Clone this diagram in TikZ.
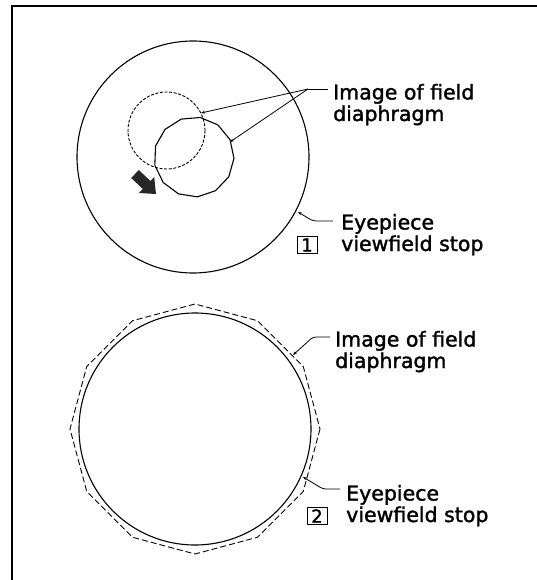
\documentclass[tikz,border=0pt]{standalone}
\usepackage{fontspec}
\setmainfont{DejaVu Sans}
\newfontfamily\lblfont[FakeBold=1.5]{DejaVu Sans}
\usetikzlibrary{arrows.meta}
\begin{document}
\begin{tikzpicture}[x=1pt,y=-1pt,
  lbl/.style={anchor=base west, inner sep=0pt, align=left, font=\lblfont\fontsize{20.5}{21.5}\selectfont},
  numbox/.style={draw, line width=0.9pt, inner sep=0pt, minimum width=20pt, minimum height=17pt, font=\lblfont\fontsize{18}{18}\selectfont},
  leader/.style={line width=0.8pt, -{Stealth[length=4pt,width=3pt]}},
  rim/.style={line width=1.1pt},
  frame/.style={line width=1.5pt}]
\useasboundingbox (0,0) rectangle (537,580);
% frame (only top and left edges visible)
\draw[frame] (12,580) -- (12,6) -- (537,6);

% ---------- panel 1 ----------
\draw[rim] (193,157) circle[radius=116];
\draw[line width=0.9pt, dash pattern=on 3pt off 1.6pt] (166.5,130.5) circle[radius=38.5];
\draw[line width=1.1pt, line join=round, shift={(194,157)}]
  plot[samples=13, domain=0:12] ({\x*27.692-81}:40) -- cycle;
% fat arrow
\fill[black!85] (131.2,178.0) -- (138.8,170.0) -- (150.4,181.0) -- (154.2,177.0)
  -- (156,194) -- (139.0,193.0) -- (142.8,189.0) -- cycle;

\node[lbl] (img1) at (333,121) {Image of field\\diaphragm};
\node[lbl] (eye1) at (341,251) {Eyepiece\\viewfield stop};
\node[numbox] (n1) at (307,245) {1};

\coordinate (j1) at (308,89);
\coordinate (t1a) at (201,113);
\coordinate (t1b) at (230,142);
\draw[line width=0.8pt] ([shift={(-5,-32)}]img1.base west) -- (j1);
\draw[leader] (j1) -- (t1a);
\draw[leader] (j1) -- (t1b);

\coordinate (k1) at (313,221);
\coordinate (t1c) at (298,212);
\draw[leader, rounded corners=3pt] ([shift={(-8,-30)}]eye1.base west) -- (k1) -- (t1c);

% ---------- panel 2 ----------
\draw[rim] (195,429) circle[radius=116];
\draw[line width=0.9pt, dash pattern=on 6pt off 3pt, shift={(195,429)}]
  plot[samples=12, domain=0:11] ({\x*30}:125) -- cycle;

\node[lbl] (img2) at (335,368) {Image of field\\diaphragm};
\node[lbl] (eye2) at (346,522) {Eyepiece\\viewfield stop};
\node[numbox] (n2) at (317,516) {2};

\coordinate (k2) at (313,337);
\coordinate (t2a) at (293,355);
\draw[leader, rounded corners=3pt] ([shift={(-5,-31)}]img2.base west) -- (k2) -- (t2a);

\coordinate (k3) at (323,489);
\coordinate (t2b) at (303,477);
\draw[leader, rounded corners=3pt] ([shift={(-6,-33)}]eye2.base west) -- (k3) -- (t2b);
\end{tikzpicture}
\end{document}
